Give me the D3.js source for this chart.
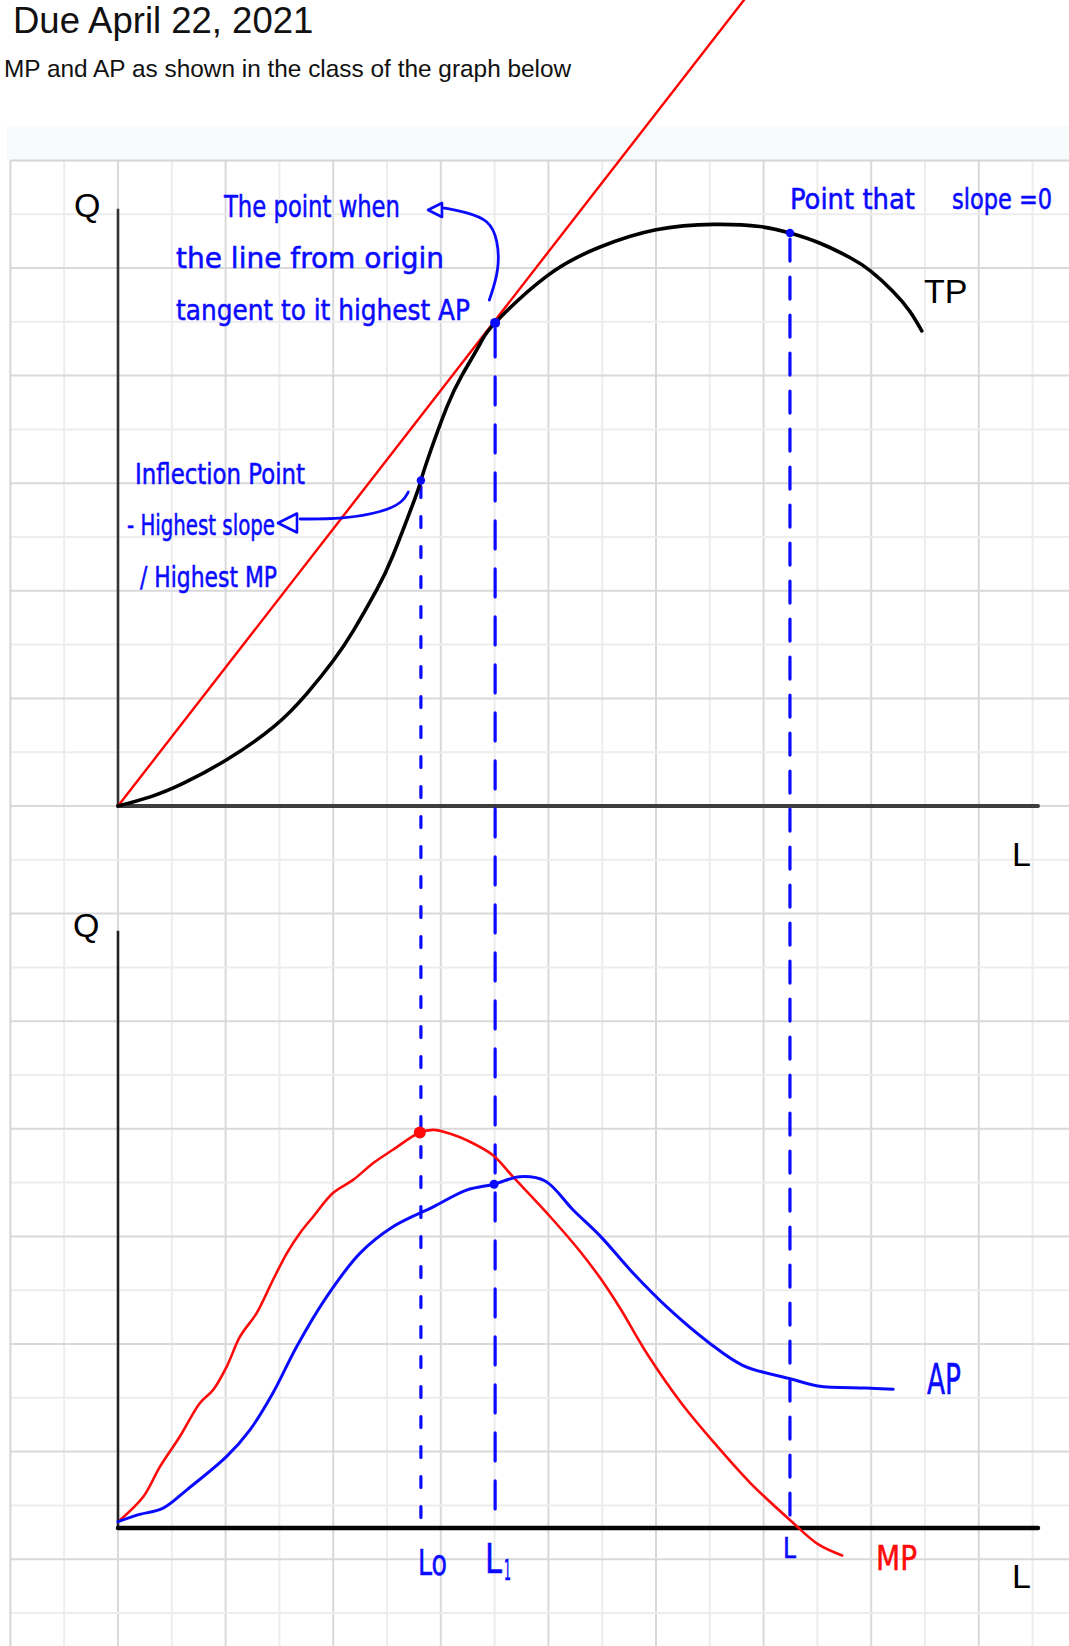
<!DOCTYPE html>
<html>
<head>
<meta charset="utf-8">
<script src="https://cdn.jsdelivr.net/npm/d3@7"></script>
<style>
  body { margin: 0; background: #fff; }
  svg { display: block; }
</style>
</head>
<body>
<script>
var width = 1069,
    height = 1646;

// total product curve (labour and output in grid squares)
var tpL = [0, 0.6, 1.21, 2.02, 2.89, 3.51, 4.0, 4.37, 4.81, 5.12, 5.52, 5.63, 5.8, 6.11,
           6.39, 6.73, 7.01, 7.97, 8.96, 10.0, 11.08, 11.93, 12.49, 13.05, 13.61, 13.98,
           14.41, 14.72, 14.94];
var tpQ = [0, 0.17, 0.42, 0.86, 1.47, 2.09, 2.7, 3.25, 4.02, 4.68, 5.72, 6.05, 6.57, 7.41,
           8.0, 8.59, 8.98, 9.85, 10.39, 10.71, 10.81, 10.77, 10.65, 10.46, 10.19, 9.95,
           9.56, 9.19, 8.83];

// ray from the origin (tangent at highest AP)
var rayL = [0, 11.65];
var rayQ = [0, 15.0];

// marginal product (hand drawn)
var mpL = [0.04, 0.47, 0.78, 1.15, 1.52, 1.77, 2.02, 2.27, 2.58, 2.88, 3.14, 3.38, 3.63, 4.0,
           4.37, 4.74, 5.11, 5.61, 5.86, 6.23, 6.48, 6.97, 7.34, 8.03, 8.59, 8.96, 9.33,
           9.84, 10.48, 11.12, 11.75, 12.51, 13.01, 13.46];
var mpQ = [0.15, 0.58, 1.14, 1.7, 2.32, 2.57, 3.0, 3.56, 4.0, 4.61, 5.11, 5.48, 5.79, 6.23,
           6.47, 6.78, 7.03, 7.35, 7.4, 7.31, 7.21, 6.93, 6.53, 5.79, 5.14, 4.65, 4.09,
           3.23, 2.31, 1.54, 0.84, 0.13, -0.3, -0.51];

// average product (hand drawn)
var apL = [0, 0.35, 0.84, 1.28, 2.02, 2.45, 2.88, 3.32, 3.88, 4.5, 5.11, 5.86, 6.48, 6.99,
           7.47, 7.94, 8.46, 8.96, 9.59, 10.22, 10.99, 11.62, 12.51, 13.01, 13.9, 14.41];
var apQ = [0.12, 0.24, 0.37, 0.71, 1.33, 1.82, 2.51, 3.37, 4.3, 5.11, 5.6, 5.97, 6.28, 6.39,
           6.53, 6.45, 5.91, 5.43, 4.72, 4.09, 3.44, 3.02, 2.77, 2.64, 2.6, 2.58];

// marked labour levels: inflection, highest AP, TP maximum
var markL = [5.63, 7.01, 12.49];
var markTP = [6.05, 8.98, 10.65];
var markEnd = [0.05, 0.13, 0];
var markDash = ["11,19", "28,20", "22,16"];

// points marked on the lower panel
var mpDotL = 5.61, mpDotQ = 7.35;
var apDotL = 6.99, apDotQ = 6.39;

var unit = 53.8;

var x = d3.scaleLinear().domain([0, 17.1]).range([118, 118 + 17.1 * unit]);
var yTop = d3.scaleLinear().domain([0, 11.1]).range([806, 806 - 11.1 * unit]);
var yBot = d3.scaleLinear().domain([0, 11.1]).range([1528, 1528 - 11.1 * unit]);

var svg = d3.select("body").append("svg")
    .attr("width", width)
    .attr("height", height);

var blue = "#0a0aff";
var red = "#ff0a0a";
var hand = "'Liberation Sans Narrow', 'DejaVu Sans Condensed', 'Roboto Condensed', sans-serif";
var plain = "'Liberation Sans', Arial, Helvetica, sans-serif";

// header text
svg.append("text")
    .attr("x", 13).attr("y", 33)
    .style("font-family", plain).style("font-size", "36.5px").style("fill", "#111")
    .text("Due April 22, 2021");

svg.append("text")
    .attr("x", 4).attr("y", 77)
    .style("font-family", plain).style("font-size", "24.4px").style("fill", "#111")
    .text("MP and AP as shown in the class of the graph below");

// faint strip above the grid paper
svg.append("rect")
    .attr("x", 7).attr("y", 126).attr("width", width - 7).attr("height", 34)
    .attr("fill", "#f7fbfb");

// grid paper
var grid = svg.append("g");
grid.append("rect")
    .attr("x", x(-2)).attr("y", yTop(12)).attr("width", width).attr("height", height)
    .attr("fill", "#fff");

var gx = d3.range(-1, 19);
var gy = d3.range(11, -17, -1);

grid.selectAll(".vx").data(gx).enter().append("line")
    .attr("x1", function(d) { return x(d); })
    .attr("x2", function(d) { return x(d); })
    .attr("y1", yTop(12)).attr("y2", height)
    .attr("stroke", function(d) { return d % 2 === 0 ? "#d9d9d9" : "#ededed"; })
    .attr("stroke-width", 2);

grid.selectAll(".hy").data(gy).enter().append("line")
    .attr("x1", x(-2)).attr("x2", width)
    .attr("y1", function(d) { return yTop(d); })
    .attr("y2", function(d) { return yTop(d); })
    .attr("stroke", function(d) { return d % 2 === 0 ? "#d9d9d9" : "#ededed"; })
    .attr("stroke-width", 2);

// outer edges of the paper
grid.append("line")
    .attr("x1", x(-2)).attr("x2", x(-2)).attr("y1", yTop(12)).attr("y2", height)
    .attr("stroke", "#d6d6d6").attr("stroke-width", 2);
grid.append("line")
    .attr("x1", x(-2)).attr("x2", width).attr("y1", yTop(12)).attr("y2", yTop(12))
    .attr("stroke", "#d6d6d6").attr("stroke-width", 2);

// axes
function axes(y, xw, yw, xc, yc) {
  svg.append("line")
      .attr("x1", x(0)).attr("x2", x(0))
      .attr("y1", y(0)).attr("y2", y(11.1))
      .attr("stroke", yc).attr("stroke-width", yw);
  svg.append("line")
      .attr("x1", x(0)).attr("x2", x(17.1))
      .attr("y1", y(0)).attr("y2", y(0))
      .attr("stroke", xc).attr("stroke-width", xw).attr("stroke-linecap", "round");
}
axes(yTop, 4, 2.6, "#3d3d3d", "#333");
axes(yBot, 4.5, 2.6, "#050505", "#222");

// dashed guides from the top panel down to the lower axis
markL.forEach(function(l, i) {
  svg.append("line")
      .attr("x1", x(l)).attr("x2", x(l))
      .attr("y1", yTop(markTP[i]) + 6).attr("y2", yBot(markEnd[i]))
      .attr("stroke", blue).attr("stroke-width", 3.2)
      .attr("stroke-dasharray", markDash[i])
      .attr("stroke-linecap", "round");
});

// ray from origin
var ray = d3.range(rayL.length).map(function(i) { return [rayL[i], rayQ[i]]; });
svg.append("path")
    .datum(ray)
    .attr("d", d3.line().x(function(d) { return x(d[0]); }).y(function(d) { return yTop(d[1]); }))
    .attr("fill", "none").attr("stroke", "#ff0000").attr("stroke-width", 2.4);

// total product
var tp = tpL.map(function(l, i) { return [l, tpQ[i]]; });
svg.append("path")
    .datum(tp)
    .attr("d", d3.line().curve(d3.curveNatural)
        .x(function(d) { return x(d[0]); }).y(function(d) { return yTop(d[1]); }))
    .attr("fill", "none").attr("stroke", "#000").attr("stroke-width", 3.6)
    .attr("stroke-linecap", "round");

// MP and AP
var lowLine = d3.line().curve(d3.curveCatmullRom)
    .x(function(d) { return x(d[0]); }).y(function(d) { return yBot(d[1]); });

svg.append("path")
    .datum(mpL.map(function(l, i) { return [l, mpQ[i]]; }))
    .attr("d", lowLine)
    .attr("fill", "none").attr("stroke", red).attr("stroke-width", 2.6)
    .attr("stroke-linecap", "round").attr("stroke-linejoin", "round");

svg.append("path")
    .datum(apL.map(function(l, i) { return [l, apQ[i]]; }))
    .attr("d", lowLine)
    .attr("fill", "none").attr("stroke", blue).attr("stroke-width", 3)
    .attr("stroke-linecap", "round").attr("stroke-linejoin", "round");

// dots
markL.forEach(function(l, i) {
  svg.append("circle")
      .attr("cx", x(l)).attr("cy", yTop(markTP[i]))
      .attr("r", i === 1 ? 5 : 4.2).attr("fill", blue);
});
svg.append("circle").attr("cx", x(mpDotL)).attr("cy", yBot(mpDotQ)).attr("r", 6).attr("fill", red);
svg.append("circle").attr("cx", x(apDotL)).attr("cy", yBot(apDotQ)).attr("r", 4.5).attr("fill", blue);

// annotation connectors (in grid units of the top panel)
var bracket = [[6.065, 11.115], [6.456, 11.041], [6.902, 10.892], [7.062, 10.52], [7.088, 9.963], [6.902, 9.405]];
var pointer = [[5.395, 5.836], [5.302, 5.651], [4.93, 5.465], [4.186, 5.335], [3.386, 5.335]];
var topLine = d3.line().curve(d3.curveBasis)
    .x(function(d) { return x(d[0]); }).y(function(d) { return yTop(d[1]); });

[bracket, pointer].forEach(function(p) {
  svg.append("path").datum(p).attr("d", topLine)
      .attr("fill", "none").attr("stroke", blue).attr("stroke-width", 2.8)
      .attr("stroke-linecap", "round");
});

function arrowHead(tx, ty, w) {
  svg.append("path")
      .attr("d", "M" + tx + "," + ty + "L" + (tx + w) + "," + (ty - w / 2) +
                 "L" + (tx + w) + "," + (ty + w / 2) + "Z")
      .attr("fill", "none").attr("stroke", blue).attr("stroke-width", 2.6)
      .attr("stroke-linejoin", "round");
}
arrowHead(x(5.762), yTop(11.078), 14);
arrowHead(x(2.974), yTop(5.26), 19);

// handwritten notes, fitted to the width they take in the sketch
function note(txt, px, py, size, len, color) {
  var c = color || blue;
  var t = svg.append("text")
      .attr("x", px).attr("y", py)
      .style("font-family", hand).style("font-size", size + "px")
      .style("fill", c).style("stroke", c).style("stroke-width", 0.5)
      .text(txt);
  var natural = t.node().getComputedTextLength();
  if (px + natural > width - 2) t.style("font-size", (size * (width - 2 - px) / natural) + "px");
  t.attr("textLength", len).attr("lengthAdjust", "spacingAndGlyphs");
  return t;
}
note("The point when", 224, 217, 30, 176);
note("the line from origin", 176, 268, 29, 268);
note("tangent to it highest AP", 176, 320, 29, 294);
note("Inflection Point", 135, 484, 29, 170);
note("- Highest slope", 127, 535, 28, 148);
note("/ Highest MP", 140, 587, 29, 137);
note("Point that", 790, 209, 29, 125);
note("slope =0", 952, 209, 28, 100);
note("AP", 927, 1394, 42, 34);
note("MP", 876, 1570, 34, 41, red);
note("Lo", 418, 1575, 36, 29);
note("L", 485, 1573, 40, 17);
note("1", 504, 1580, 28, 7);
note("L", 783, 1558, 28, 13);

// axis and curve labels
function label(txt, px, py) {
  svg.append("text")
      .attr("x", px).attr("y", py)
      .style("font-family", plain).style("font-size", "34px").style("fill", "#000")
      .text(txt);
}
label("Q", 74, 217);
label("Q", 73, 937);
label("L", 1012, 866);
label("L", 1012, 1588);
label("TP", 924, 303);
</script>
</body>
</html>
